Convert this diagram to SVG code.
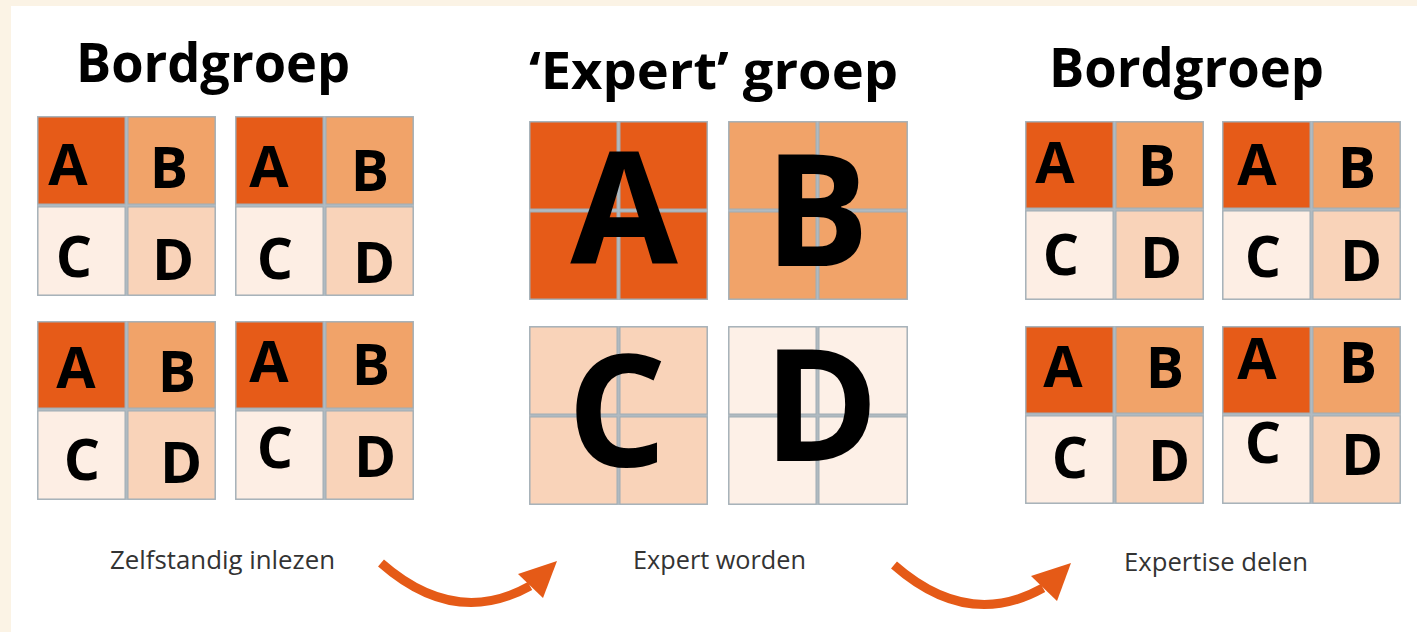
<svg xmlns="http://www.w3.org/2000/svg" width="1417" height="632" viewBox="0 0 1417 632">
<style>
.bg{fill:#FBF3E5}
.panel{fill:#FFFFFF}
.gb{fill:#B0BAC1}
.a{fill:#E65B18}
.b{fill:#F1A369}
.c{fill:#FDEEE4}
.d{fill:#F9D3B9}
.e{fill:#FDF0E7}
.cell{stroke:#A0ACB4;stroke-width:1}
.t{font-family:"Open Sans","DejaVu Sans",sans-serif;font-weight:bold;fill:#000}
.L{font-size:57px;text-anchor:middle}
.XL{font-size:156px;text-anchor:middle}
.title{font-size:54px}
.lab{font-family:"Open Sans","DejaVu Sans",sans-serif;font-size:26px;fill:#333333}
.arr{fill:none;stroke:#E55A17;stroke-width:9;stroke-linecap:butt}
.head{fill:#E55A17}
</style>
<rect class="bg" x="0" y="0" width="1417" height="632"/>
<rect class="panel" x="11" y="6" width="1406" height="626"/>

<g id="title-left"><text class="t title" x="76" y="82" textLength="274" lengthAdjust="spacingAndGlyphs">Bordgroep</text></g>
<g id="title-mid"><text class="t title" x="529" y="89" style="font-size:52px" textLength="369" lengthAdjust="spacingAndGlyphs">‘Expert’ groep</text></g>
<g id="title-right"><text class="t title" x="1049" y="87" textLength="275" lengthAdjust="spacingAndGlyphs">Bordgroep</text></g>

<!-- Left grids -->
<g id="grid-l1">
<rect class="gb" x="37" y="116" width="179" height="180"/>
<rect class="a cell" x="38" y="117" width="87" height="87"/><rect class="b cell" x="128" y="117" width="87" height="87"/>
<rect class="c cell" x="38" y="207" width="87" height="88"/><rect class="d cell" x="128" y="207" width="87" height="88"/>
<text class="t L" x="68" y="185">A</text><text class="t L" x="169" y="188">B</text>
<text class="t L" x="74" y="277">C</text><text class="t L" x="173" y="280">D</text>
</g>
<g id="grid-l2">
<rect class="gb" x="235" y="116" width="179" height="180"/>
<rect class="a cell" x="236" y="117" width="87" height="87"/><rect class="b cell" x="326" y="117" width="87" height="87"/>
<rect class="c cell" x="236" y="207" width="87" height="88"/><rect class="d cell" x="326" y="207" width="87" height="88"/>
<text class="t L" x="269" y="187">A</text><text class="t L" x="370" y="191">B</text>
<text class="t L" x="275" y="279">C</text><text class="t L" x="374" y="283">D</text>
</g>
<g id="grid-l3">
<rect class="gb" x="37" y="321" width="179" height="179"/>
<rect class="a cell" x="38" y="322" width="87" height="86"/><rect class="b cell" x="128" y="322" width="87" height="86"/>
<rect class="c cell" x="38" y="411" width="87" height="88"/><rect class="d cell" x="128" y="411" width="87" height="88"/>
<text class="t L" x="76" y="388">A</text><text class="t L" x="177" y="392">B</text>
<text class="t L" x="82" y="480">C</text><text class="t L" x="181" y="483">D</text>
</g>
<g id="grid-l4">
<rect class="gb" x="235" y="321" width="179" height="179"/>
<rect class="a cell" x="236" y="322" width="87" height="86"/><rect class="b cell" x="326" y="322" width="87" height="86"/>
<rect class="c cell" x="236" y="411" width="87" height="88"/><rect class="d cell" x="326" y="411" width="87" height="88"/>
<text class="t L" x="269" y="382">A</text><text class="t L" x="371" y="385">B</text>
<text class="t L" x="275" y="468">C</text><text class="t L" x="375" y="477">D</text>
</g>

<!-- Middle expert blocks -->
<g id="expert-a">
<rect class="gb" x="529" y="121" width="179" height="179"/>
<rect class="a cell" x="530" y="122" width="87" height="87"/><rect class="a cell" x="620" y="122" width="87" height="87"/>
<rect class="a cell" x="530" y="212" width="87" height="87"/><rect class="a cell" x="620" y="212" width="87" height="87"/>
<text class="t XL" x="624" y="264">A</text>
</g>
<g id="expert-b">
<rect class="gb" x="728" y="121" width="180" height="179"/>
<rect class="b cell" x="729" y="122" width="87" height="87"/><rect class="b cell" x="819" y="122" width="88" height="87"/>
<rect class="b cell" x="729" y="212" width="87" height="87"/><rect class="b cell" x="819" y="212" width="88" height="87"/>
<text class="t XL" x="817" y="266">B</text>
</g>
<g id="expert-c">
<rect class="gb" x="529" y="326" width="179" height="179"/>
<rect class="d cell" x="530" y="327" width="87" height="87"/><rect class="d cell" x="620" y="327" width="87" height="87"/>
<rect class="d cell" x="530" y="417" width="87" height="87"/><rect class="d cell" x="620" y="417" width="87" height="87"/>
<text class="t XL" x="617" y="466">C</text>
</g>
<g id="expert-d">
<rect class="gb" x="728" y="326" width="180" height="179"/>
<rect class="e cell" x="729" y="327" width="87" height="87"/><rect class="e cell" x="819" y="327" width="88" height="87"/>
<rect class="e cell" x="729" y="417" width="87" height="87"/><rect class="e cell" x="819" y="417" width="88" height="87"/>
<text class="t XL" x="821" y="461">D</text>
</g>

<!-- Right grids -->
<g id="grid-r1">
<rect class="gb" x="1025" y="121" width="179" height="179"/>
<rect class="a cell" x="1026" y="122" width="87" height="86"/><rect class="b cell" x="1116" y="122" width="87" height="86"/>
<rect class="c cell" x="1026" y="211" width="87" height="88"/><rect class="d cell" x="1116" y="211" width="87" height="88"/>
<text class="t L" x="1055" y="183">A</text><text class="t L" x="1157" y="186">B</text>
<text class="t L" x="1061" y="275">C</text><text class="t L" x="1161" y="278">D</text>
</g>
<g id="grid-r2">
<rect class="gb" x="1222" y="121" width="179" height="179"/>
<rect class="a cell" x="1223" y="122" width="87" height="86"/><rect class="b cell" x="1313" y="122" width="87" height="86"/>
<rect class="c cell" x="1223" y="211" width="87" height="88"/><rect class="d cell" x="1313" y="211" width="87" height="88"/>
<text class="t L" x="1257" y="185">A</text><text class="t L" x="1357" y="188">B</text>
<text class="t L" x="1263" y="277">C</text><text class="t L" x="1361" y="281">D</text>
</g>
<g id="grid-r3">
<rect class="gb" x="1025" y="326" width="179" height="178"/>
<rect class="a cell" x="1026" y="327" width="87" height="86"/><rect class="b cell" x="1116" y="327" width="87" height="86"/>
<rect class="c cell" x="1026" y="416" width="87" height="87"/><rect class="d cell" x="1116" y="416" width="87" height="87"/>
<text class="t L" x="1063" y="387">A</text><text class="t L" x="1165" y="388">B</text>
<text class="t L" x="1070" y="478">C</text><text class="t L" x="1169" y="481">D</text>
</g>
<g id="grid-r4">
<rect class="gb" x="1222" y="326" width="179" height="178"/>
<rect class="a cell" x="1223" y="327" width="87" height="86"/><rect class="b cell" x="1313" y="327" width="87" height="86"/>
<rect class="c cell" x="1223" y="416" width="87" height="87"/><rect class="d cell" x="1313" y="416" width="87" height="87"/>
<text class="t L" x="1257" y="379">A</text><text class="t L" x="1358" y="383">B</text>
<text class="t L" x="1263" y="463">C</text><text class="t L" x="1362" y="475">D</text>
</g>

<!-- Labels -->
<g id="label-1"><text class="lab" x="110" y="569" textLength="225" lengthAdjust="spacingAndGlyphs">Zelfstandig inlezen</text></g>
<g id="label-2"><text class="lab" x="633" y="569" textLength="173" lengthAdjust="spacingAndGlyphs">Expert worden</text></g>
<g id="label-3"><text class="lab" x="1124" y="571" textLength="184" lengthAdjust="spacingAndGlyphs">Expertise delen</text></g>

<!-- Connectors -->
<g id="connectors">
<path class="arr" d="M381,563 Q455,628 530,586"/>
<polygon class="head" points="518,574 557,561 543,598"/>
<path class="arr" d="M894,565 Q968,630 1043,588"/>
<polygon class="head" points="1031,576 1071,563 1057,601"/>
</g>
</svg>
